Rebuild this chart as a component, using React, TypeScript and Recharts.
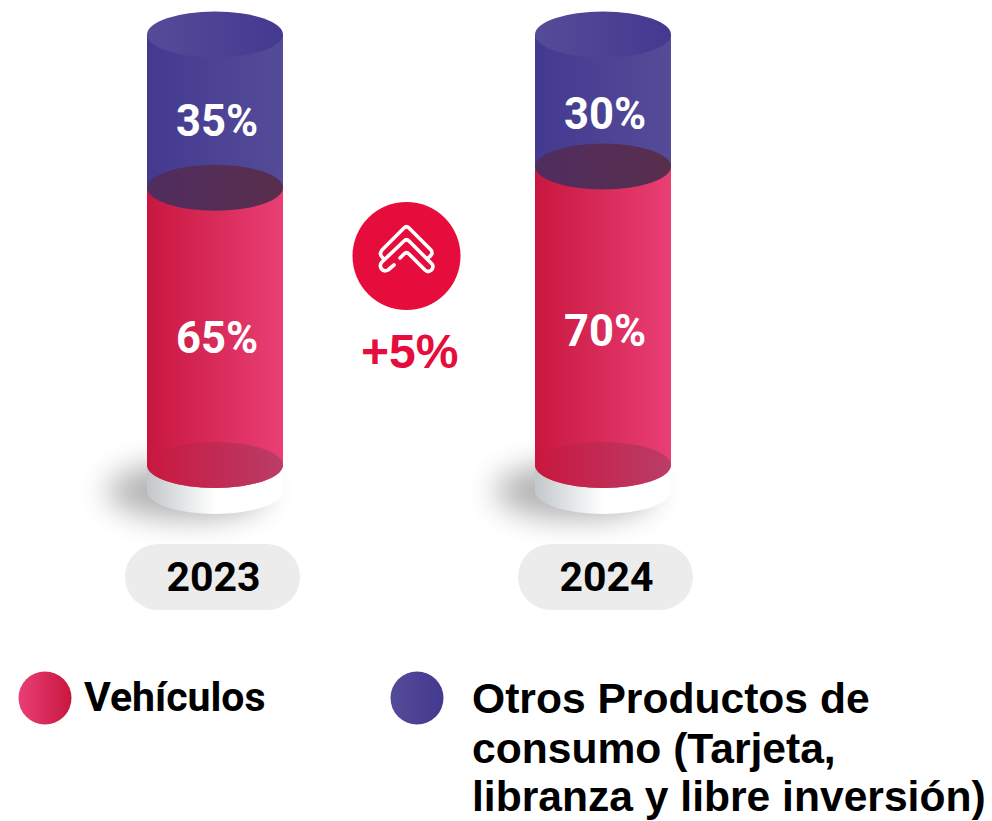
import { BarChart, Bar, XAxis, YAxis, LabelList } from 'recharts';

const years = ['2023', '2024'];
const vehiculos = [65, 70];
const otros = [35, 30];

const chartData = years.map((year, i) => ({ year, vehiculos: vehiculos[i], otros: otros[i] }));

const RY = 23;
const LID_LIFT = 4;
const RED = '#e60d3c';
const roboto = 'Roboto, sans-serif';
const arial = '"Liberation Sans", Arial, sans-serif';

// labels do not sit in the exact middle of the cylinder, they sit a bit lower
const redLabelDy = [12, 16];
const blueLabelDy = [8, 12];

const RedCylinder = ({ x, y, width, height }: any) => {
  const cx = x + width / 2;
  const rx = width / 2;
  const bottom = y + height;
  const baseH = 26;
  return (
    <g>
      <ellipse cx={cx - 28} cy={bottom + 26} rx={80} ry={28} fill="#000" opacity={0.3} filter="url(#soft)" />
      <path
        d={`M${x} ${bottom} v${baseH} A${rx} ${RY} 0 0 0 ${x + width} ${bottom + baseH} v${-baseH} Z`}
        fill="url(#baseGrad)"
      />
      <path
        d={`M${x} ${y} A${rx} ${RY} 0 0 1 ${x + width} ${y} V${bottom} A${rx} ${RY} 0 0 1 ${x} ${bottom} Z`}
        fill="url(#redGrad)"
      />
      <ellipse cx={cx} cy={bottom} rx={rx} ry={RY} fill="url(#floorGrad)" />
    </g>
  );
};

const BlueCylinder = ({ x, y, width, height }: any) => {
  const cx = x + width / 2;
  const rx = width / 2;
  const top = y - LID_LIFT;
  const bottom = y + height;
  return (
    <g>
      <path d={`M${x} ${top} H${x + width} V${bottom} H${x} Z`} fill="url(#blueGrad)" />
      <ellipse cx={cx} cy={top} rx={rx} ry={RY} fill="url(#lidGrad)" />
      <ellipse cx={cx} cy={bottom} rx={rx} ry={RY} fill="url(#darkGrad)" />
    </g>
  );
};

const PctLabel = ({ x, y, width, height, value, index, nudge }: any) => (
  <text
    x={x + width / 2 + 2}
    y={y + height / 2 + nudge[index]}
    fill="#fff"
    fontFamily={roboto}
    fontWeight={700}
    fontSize={43.5}
    textAnchor="middle"
    dominantBaseline="central"
  >
    {value}%
  </text>
);

const YearTick = ({ x, y, payload, index }: any) => {
  const cx = x + (index === 0 ? -2.5 : 2.5);
  const top = y + 73;
  return (
    <g>
      <rect x={cx - 87.5} y={top} width={175} height={66} rx={33} fill="#ececec" />
      <text
        x={cx + 1}
        y={top + 33}
        fill="#000"
        fontFamily={roboto}
        fontWeight={700}
        fontSize={41}
        textAnchor="middle"
        dominantBaseline="central"
      >
        {payload.value}
      </text>
    </g>
  );
};

const absText = (left: number, top: number, size: number, family: string): React.CSSProperties => ({
  position: 'absolute',
  left,
  top,
  fontSize: size,
  fontFamily: family,
  fontWeight: 700,
  whiteSpace: 'nowrap',
  color: '#000',
});

const App = () => (
  <div style={{ position: 'absolute', left: 0, top: 0, width: 992, height: 821, overflow: 'hidden', background: '#fff' }}>
    <BarChart
      width={992}
      height={821}
      data={chartData}
      margin={{ top: 38.5, right: 195, bottom: 0, left: 21 }}
      barSize={136}
    >
      <defs>
        <linearGradient id="redGrad" x1="0" y1="0" x2="1" y2="0">
          <stop offset="0%" stopColor="#c8173f" />
          <stop offset="100%" stopColor="#e93f75" />
        </linearGradient>
        <linearGradient id="blueGrad" x1="0" y1="0" x2="1" y2="0">
          <stop offset="0%" stopColor="#433990" />
          <stop offset="100%" stopColor="#544c98" />
        </linearGradient>
        <linearGradient id="lidGrad" x1="0" y1="0" x2="1" y2="0">
          <stop offset="0%" stopColor="#544c98" />
          <stop offset="100%" stopColor="#433990" />
        </linearGradient>
        <linearGradient id="darkGrad" x1="0" y1="0" x2="1" y2="0">
          <stop offset="0%" stopColor="#502d60" />
          <stop offset="100%" stopColor="#582e4c" />
        </linearGradient>
        <linearGradient id="floorGrad" x1="0" y1="0" x2="1" y2="0">
          <stop offset="0%" stopColor="#c9173f" />
          <stop offset="100%" stopColor="#ba3d68" />
        </linearGradient>
        <linearGradient id="baseGrad" x1="0" y1="0" x2="1" y2="0">
          <stop offset="0%" stopColor="#c3c7ca" />
          <stop offset="50%" stopColor="#ffffff" />
          <stop offset="100%" stopColor="#ffffff" />
        </linearGradient>
        <filter id="soft" x="-50%" y="-80%" width="200%" height="260%">
          <feGaussianBlur stdDeviation="15" />
        </filter>
      </defs>
      <XAxis
        dataKey="year"
        axisLine={false}
        tickLine={false}
        height={356}
        tickMargin={0}
        interval={0}
        tick={<YearTick />}
      />
      <YAxis hide domain={[0, 100]} />
      <Bar dataKey="vehiculos" stackId="a" shape={<RedCylinder />} isAnimationActive={false}>
        <LabelList dataKey="vehiculos" content={<PctLabel nudge={redLabelDy} />} />
      </Bar>
      <Bar dataKey="otros" stackId="a" shape={<BlueCylinder />} isAnimationActive={false}>
        <LabelList dataKey="otros" content={<PctLabel nudge={blueLabelDy} />} />
      </Bar>
    </BarChart>

    <svg width={992} height={821} style={{ position: 'absolute', left: 0, top: 0, pointerEvents: 'none' }}>
      <defs>
        <linearGradient id="legendRed" x1="0" y1="0" x2="1" y2="0">
          <stop offset="0%" stopColor="#e93f75" />
          <stop offset="100%" stopColor="#c8173f" />
        </linearGradient>
        <linearGradient id="legendBlue" x1="0" y1="0" x2="1" y2="0">
          <stop offset="0%" stopColor="#544c98" />
          <stop offset="100%" stopColor="#433990" />
        </linearGradient>
      </defs>
      <circle cx={406.5} cy={256} r={54} fill={RED} />
      <g fill="none" stroke="#fff" strokeWidth={3.6} strokeLinecap="round" strokeLinejoin="round">
        <path d="M428 258 Q434 254 431 250 L409 228 Q406.5 225.5 404 228 L382 250 Q379 254 382 257 L384 259" />
        <path d="M394 265 L388 270 Q384 272 381.5 269 Q379 265 382 262 L404 241 Q406.5 238.5 409 241 L432 264 Q434 267 431.5 270 Q428 273 425 270 L409 254 Q406.5 251.5 404 254 L400 258" />
      </g>
      <circle cx={45} cy={698} r={26.5} fill="url(#legendRed)" />
      <circle cx={417} cy={698} r={26.5} fill="url(#legendBlue)" />
    </svg>

    <div style={{ ...absText(361, 324, 48, arial), color: RED }}>+5%</div>
    <div style={absText(84, 673, 41, roboto)}>Vehículos</div>
    <div style={absText(472, 674, 42.6, arial)}>Otros Productos de</div>
    <div style={absText(472, 724, 42.6, arial)}>consumo (Tarjeta,</div>
    <div style={absText(472, 772, 42.6, arial)}>libranza y libre inversión)</div>
  </div>
);

export default App;
